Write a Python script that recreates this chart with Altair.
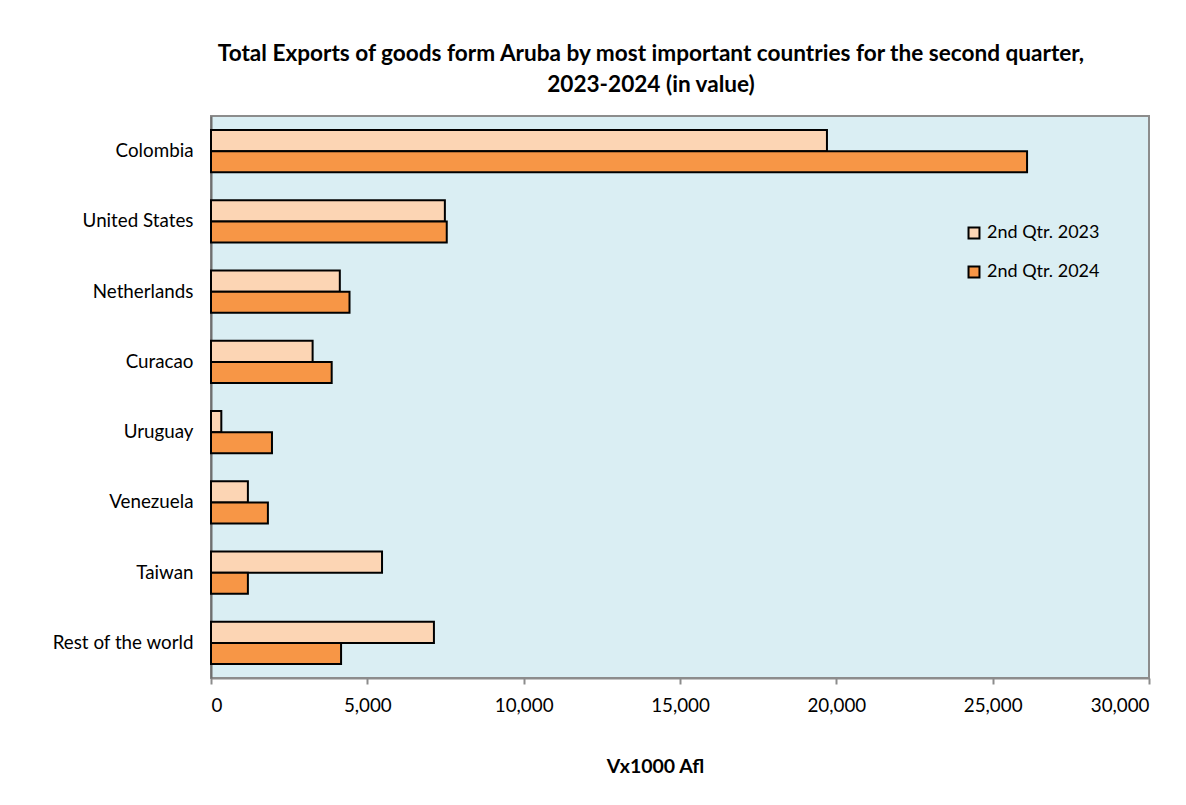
import altair as alt
import pandas as pd

countries = ["Colombia", "United States", "Netherlands", "Curacao", "Uruguay",
             "Venezuela", "Taiwan", "Rest of the world"]
series = ["2nd Qtr. 2023", "2nd Qtr. 2024"]
v2023 = [19700, 7480, 4120, 3250, 330, 1180, 5470, 7130]
v2024 = [26100, 7540, 4430, 3860, 1950, 1820, 1180, 4160]
colors = ["#FCD5B4", "#F79646"]
x_ticks = [0, 5000, 10000, 15000, 20000, 25000, 30000]

rows = []
for c, a, b in zip(countries, v2023, v2024):
    rows.append({"country": c, "series": series[0], "value": a})
    rows.append({"country": c, "series": series[1], "value": b})
df = pd.DataFrame(rows)

FONT = "Lato"

chart = alt.Chart(df).mark_bar(stroke="black", strokeWidth=2).encode(
    y=alt.Y("country:N", sort=countries,
            scale=alt.Scale(paddingInner=0.4, paddingOuter=0.2),
            axis=alt.Axis(title=None, ticks=False, labelPadding=18,
                          labelFontSize=18.8, labelColor="black", labelFont=FONT,
                          domainColor="#6F6F6F", domainWidth=2)),
    yOffset=alt.YOffset("series:N", sort=series),
    x=alt.X("value:Q",
            scale=alt.Scale(domain=[0, 30000], nice=False),
            axis=alt.Axis(title="Vx1000 Afl", values=x_ticks, format=",.0f",
                          grid=False, tickColor="#8C8C8C", tickWidth=2, tickSize=6,
                          domainColor="#8C8C8C", domainWidth=2,
                          labelFontSize=18.8, labelColor="black", labelFont=FONT,
                          labelPadding=12,
                          titleFontSize=19.5, titleFont=FONT, titleFontWeight="bold",
                          titleColor="black", titlePadding=43, titleX=444)),
    color=alt.Color("series:N", sort=series,
                    scale=alt.Scale(domain=series, range=colors),
                    legend=alt.Legend(title=None, orient="none", legendX=754, legendY=108,
                                      symbolType="square", symbolSize=120,
                                      symbolStrokeColor="black", symbolStrokeWidth=2,
                                      labelFontSize=18, labelFont=FONT, labelColor="black",
                                      labelOffset=4, rowPadding=19)),
).properties(
    width=938,
    height=562,
    title=alt.TitleParams(
        ["Total Exports of goods form Aruba by most important countries for the second quarter,",
         "2023-2024 (in value)"],
        fontSize=22.6, font=FONT, fontWeight="bold", color="black",
        anchor="middle", dx=-29, offset=19, lineHeight=31),
    autosize=alt.AutoSizeParams(type="none"),
    padding={"left": 203, "top": 108, "right": 20, "bottom": 110},
).configure(
    background="white"
).configure_view(
    fill="#DAEEF3", stroke="#8C8C8C", strokeWidth=2
)

chart.save("out.html", embed_options={"renderer": "svg", "actions": False})
